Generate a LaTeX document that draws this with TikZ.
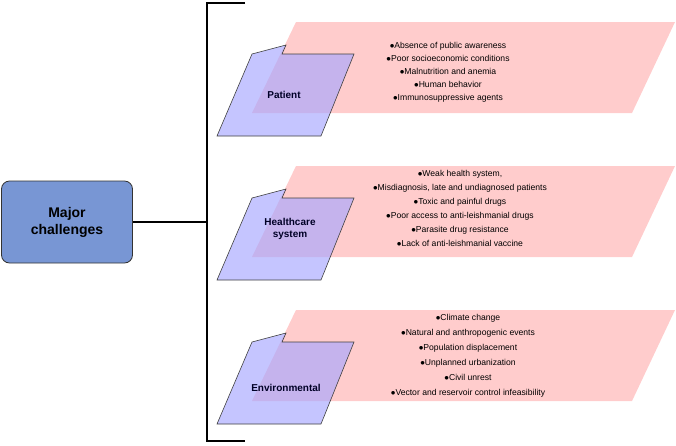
\documentclass[tikz,border=0pt]{standalone}
\usepackage{fontspec}
\setmainfont{Liberation Sans}
\begin{document}
\begin{tikzpicture}[x=1pt,y=-1pt,
  pinkband/.style={fill=red!20!white,draw=none},
  bluetab/.style={fill=blue!35!white,fill opacity=0.65,draw=black!75,line width=0.6pt},
  cat/.style={font=\bfseries\fontsize{10}{12}\selectfont,align=center,text=black!85!blue},
  items/.style={font=\fontsize{8.6}{13}\selectfont,align=center},
  bracket/.style={line width=1.2pt}]
\useasboundingbox (0,0) rectangle (676,445);
\node[draw=black!80,line width=0.8pt,fill=cyan!40!blue!55!white,rounded corners=8pt,minimum width=131pt,minimum height=82pt,font=\bfseries\fontsize{14}{17}\selectfont,align=center] (major) at (67,222) {Major\\challenges};
\coordinate (bt) at (245,3);
\coordinate (b1) at (207,3);
\coordinate (b2) at (207,441);
\coordinate (bb) at (245,441);
\coordinate (bm) at (207,222);
\draw[bracket] (bt) -- (b1) -- (b2) -- (bb);
\draw[bracket] (major.east) -- (bm);
\foreach \dy/\nm in {0/p,144/h,288/e}{
  \fill[pinkband] (296,22+\dy) -- (675,22+\dy) -- (632,113+\dy) -- (252,113+\dy) -- cycle;
  \draw[bluetab] (217,136+\dy) -- (321,136+\dy) -- (354,54+\dy) -- (282,54+\dy) -- (286,45+\dy) -- (252,54+\dy) -- cycle;
}
\node[cat] (pat) at (284,95) {Patient};
\node[cat] (hc) at (290,229) {Healthcare\\system};
\node[cat] (env) at (286,388) {Environmental};
\node[items] (pi) at (448,72) {$\bullet$Absence of public awareness\\$\bullet$Poor socioeconomic conditions\\$\bullet$Malnutrition and anemia\\$\bullet$Human behavior\\$\bullet$Immunosuppressive agents};
\node[items,font=\fontsize{8.6}{14}\selectfont] (hi) at (460,208) {$\bullet$Weak health system,\\$\bullet$Misdiagnosis, late and undiagnosed patients\\$\bullet$Toxic and painful drugs\\$\bullet$Poor access to anti-leishmanial drugs\\$\bullet$Parasite drug resistance\\$\bullet$Lack of anti-leishmanial vaccine};
\node[items,font=\fontsize{8.6}{15}\selectfont] (ei) at (468,356) {$\bullet$Climate change\\$\bullet$Natural and anthropogenic events\\$\bullet$Population displacement\\$\bullet$Unplanned urbanization\\$\bullet$Civil unrest\\$\bullet$Vector and reservoir control infeasibility};
\end{tikzpicture}
\end{document}
